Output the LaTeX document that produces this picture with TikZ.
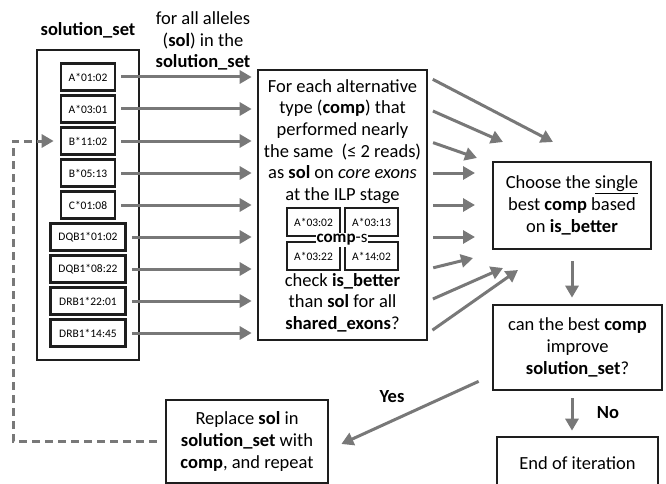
\documentclass[tikz,border=0pt]{standalone}
\usepackage{fontspec}
\setmainfont{Carlito}
\usetikzlibrary{arrows.meta}
\usetikzlibrary{calc}
\newcommand{\bigtxt}{\fontsize{18.5}{21.7}\selectfont}
\newcommand{\smalltxt}{\fontsize{11.5}{13}\selectfont}
\definecolor{arrgray}{RGB}{120, 120, 120}
\definecolor{boxline}{RGB}{30, 30, 30}
\tikzset{box/.style = {draw=boxline, line width=2.7pt, inner sep=0, align=center}}
\tikzset{allele/.style = {box, minimum height=27, font=\smalltxt}}
\tikzset{minibox/.style = {box, minimum width=53, minimum height=28, font=\smalltxt}}
\tikzset{flow/.style = {draw=arrgray, line width=3pt, -{Triangle[length=12pt, width=13pt]}, shorten <=5, shorten >=5}}
\tikzset{feedback/.style = {flow, dash pattern=on 8pt off 5pt, shorten <=8, shorten >=6}}

\begin{document}
\begin{tikzpicture}[x=1pt, y=-1pt, font=\bigtxt]
  \clip (0,0) rectangle (666,484);

  % the set of alleles
  \node [font=\bigtxt\bfseries] (settitle) at (88,30) {solution\_set};
  \node [box, minimum width=102, minimum height=310] (setframe) at (88,205) {};
  \foreach \i/\name/\w in {1/A*01:02/54, 2/A*03:01/54, 3/B*11:02/54, 4/B*05:13/54, 5/C*01:08/54,
                           6/DQB1*01:02/75, 7/DQB1*08:22/75, 8/DRB1*22:01/75, 9/DRB1*14:45/75}
    \node [allele, minimum width=\w] (a\i) at (88, {45+32*\i}) {\name};
  \node [align=center] (forall) at (203,41) {for all alleles\\(\textbf{sol}) in the\\\textbf{solution\_set}};

  % alternatives
  \node [box, minimum width=169, minimum height=270] (check) at (342.5,205) {};
  \node [align=center] (checktop) at (342.5,141.5) {For each alternative\\type (\textbf{comp}) that\\performed nearly\\the same\ \ (≤ 2 reads)\\as \textbf{sol} on \textit{core exons}\\at the ILP stage};
  \node [minibox] (c1) at (313.5,222) {A*03:02};
  \node [minibox] (c2) at (371.5,222) {A*03:13};
  \node [minibox] (c3) at (313.5,256) {A*03:22};
  \node [minibox] (c4) at (371.5,256) {A*14:02};
  \node [fill=white, inner sep=1pt, font=\fontsize{17}{19}\selectfont] (comps) at (342,240) {\textbf{comp}-s};
  \node [align=center] (checkbot) at (342.5,302.5) {check \textbf{is\_better}\\than \textbf{sol} for all\\\textbf{shared\_exons}?};

  % decisions
  \node [box, minimum width=158, minimum height=87] (choose) at (572,205.5) {Choose the \underline{single}\\best \textbf{comp} based\\on \textbf{is\_better}};
  \node [box, minimum width=169, minimum height=85] (can) at (577.5,347.5) {can the best \textbf{comp}\\improve\\\textbf{solution\_set}?};
  \node [box, minimum width=161, minimum height=52] (endit) at (577.5,463) {End of iteration};
  \node [box, minimum width=162, minimum height=83] (replace) at (247,441.5) {Replace \textbf{sol} in\\\textbf{solution\_set} with\\\textbf{comp}, and repeat};

  % arrows
  \foreach \i in {1,...,9}
    \draw [flow] (a\i.east) -- (check.west |- a\i.east);
  \foreach \i/\tx/\ty in {1/553/142, 2/503/142, 3/477/158, 4/475/173, 5/475/205,
                          6/475/237, 7/473/258, 8/503/268, 9/518/270}
    \coordinate (in\i) at (\tx,\ty);
  \foreach \i in {1,...,9}
    \draw [flow, shorten >=0] (check.east |- a\i.east) -- (in\i);

  \draw [flow, shorten <=11, shorten >=6] (choose.south) -- (choose.south |- can.north);
  \draw [flow, shorten <=7, shorten >=5] (choose.south |- can.south) -- (choose.south |- endit.north);
  \node [font=\bigtxt\bfseries] (nolabel) at (608,413) {No};

  \draw [flow, shorten <=0, shorten >=0] ($(can.south west)+(-13,-10)$) -- ($(replace.east)+(12,2.5)$);
  \node [font=\bigtxt\bfseries] (yeslabel) at (392,397) {Yes};

  \coordinate (loopx) at (13,0);
  \draw [feedback] (replace.west) -- (replace.west -| loopx) |- (a3.west);
\end{tikzpicture}
\end{document}
